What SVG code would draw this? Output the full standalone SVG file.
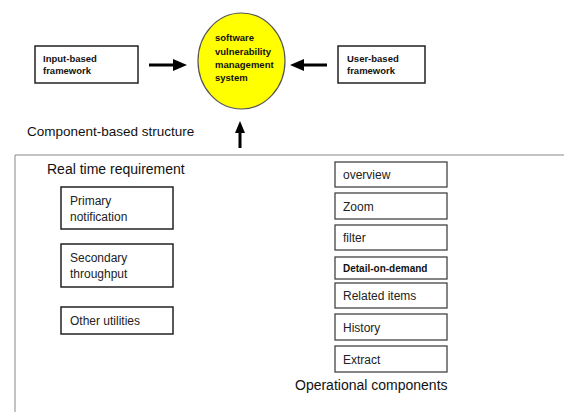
<svg xmlns="http://www.w3.org/2000/svg" width="564" height="412" viewBox="0 0 564 412">
<style>
.box{fill:#fff;stroke:#222;stroke-width:1.5}
.sbox{fill:#fff;stroke:#444;stroke-width:1.3}
.t{font-family:"Liberation Sans",Arial,sans-serif;font-size:12px;fill:#222}
.b{font-family:"Liberation Sans",Arial,sans-serif;font-size:9.5px;font-weight:bold;fill:#111}
.h{font-family:"Liberation Sans",Arial,sans-serif;font-size:14px;fill:#111}
.arr{stroke:#000;stroke-width:3;fill:none}
</style>
<rect width="564" height="412" fill="#fff"/>
<g id="frame">
<path d="M15,412 V155 H564" fill="none" stroke="#888" stroke-width="1"/>
</g>
<g id="input-based">
<rect class="box" x="35" y="46" width="103" height="37"/>
<text class="b" x="43" y="62">Input-based</text>
<text class="b" x="43" y="74">framework</text>
</g>
<g id="svms">
<ellipse cx="241.5" cy="61" rx="43.5" ry="48" fill="#ffff00" stroke="#555" stroke-width="1.2"/>
<text class="b" x="215" y="41">software</text>
<text class="b" x="215" y="55">vulnerability</text>
<text class="b" x="215" y="68">management</text>
<text class="b" x="215" y="81">system</text>
</g>
<g id="user-based">
<rect class="box" x="338" y="46" width="87" height="37"/>
<text class="b" x="347" y="62">User-based</text>
<text class="b" x="347" y="74">framework</text>
</g>
<g id="component-label">
<text class="h" x="27" y="136" style="font-size:13.5px">Component-based structure</text>
</g>
<g id="connectors">
<line class="arr" x1="149" y1="65" x2="175" y2="65"/>
<polygon points="173,59 187,65 173,71" fill="#000"/>
<line class="arr" x1="327" y1="65" x2="302" y2="65"/>
<polygon points="304,59 290,65 304,71" fill="#000"/>
<line class="arr" x1="240" y1="148" x2="240" y2="131"/>
<polygon points="235,133 240,121 245,133" fill="#000"/>
</g>
<g id="realtime">
<text class="h" x="47" y="174">Real time requirement</text>
</g>
<g id="primary">
<rect class="box" x="61" y="187" width="112" height="42"/>
<text class="t" x="70" y="205">Primary</text>
<text class="t" x="70" y="221">notification</text>
</g>
<g id="secondary">
<rect class="box" x="61" y="244" width="112" height="43"/>
<text class="t" x="70" y="262">Secondary</text>
<text class="t" x="70" y="278">throughput</text>
</g>
<g id="other">
<rect class="box" x="61" y="307" width="112" height="27"/>
<text class="t" x="70" y="325">Other utilities</text>
</g>
<g id="overview">
<rect class="sbox" x="335" y="162" width="112" height="25"/>
<text class="t" x="343" y="179">overview</text>
</g>
<g id="zoom">
<rect class="sbox" x="335" y="193" width="112" height="26"/>
<text class="t" x="343" y="211">Zoom</text>
</g>
<g id="filter">
<rect class="sbox" x="335" y="225" width="112" height="25"/>
<text class="t" x="343" y="242">filter</text>
</g>
<g id="detail">
<rect class="sbox" x="335" y="257" width="112" height="22"/>
<text class="b" x="343" y="272" style="font-size:10px">Detail-on-demand</text>
</g>
<g id="related">
<rect class="sbox" x="335" y="283" width="112" height="25"/>
<text class="t" x="343" y="300">Related items</text>
</g>
<g id="history">
<rect class="sbox" x="335" y="314" width="112" height="26"/>
<text class="t" x="343" y="332">History</text>
</g>
<g id="extract">
<rect class="sbox" x="335" y="346" width="112" height="26"/>
<text class="t" x="343" y="364">Extract</text>
</g>
<g id="operational">
<text class="h" x="295" y="390">Operational components</text>
</g>
</svg>
